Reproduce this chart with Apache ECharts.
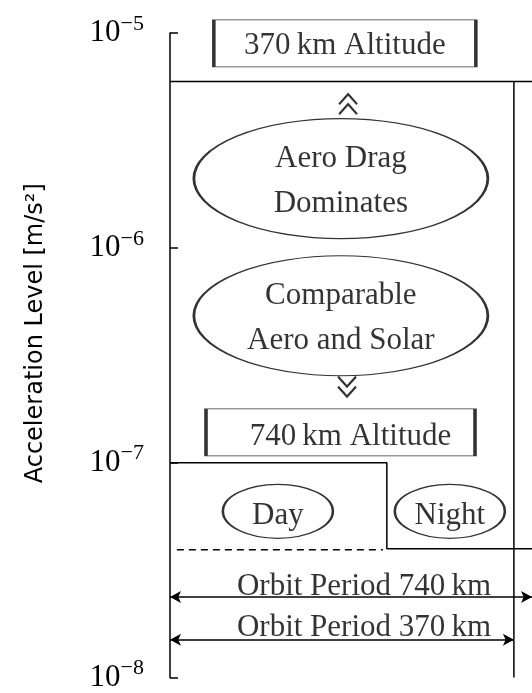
<!DOCTYPE html>
<html>
<head>
<meta charset="utf-8">
<script src="https://cdn.jsdelivr.net/npm/echarts@6/dist/echarts.min.js"></script>
<style>
html,body{margin:0;padding:0;background:#fff;}
#chart{width:532px;height:693px;}
</style>
</head>
<body>
<div id="chart"></div>
<script>
// ---- data (x: arbitrary orbit-time units 0..100, y: acceleration m/s^2) ----
const xExtent = [0, 100];
const yExtent = [1e-8, 1e-5];
const yTicks = [1e-8, 1e-7, 1e-6, 1e-5];

const boundaryX = [0, 100];
const boundaryY = 5.94e-6;
const period370X = 95;
const period740X = 100;

const stepX = [0, 59.9, 59.9, 100];
const stepY = [1.0e-7, 1.0e-7, 3.97e-8, 3.97e-8];
const dashX = [1.9, 58.8];
const dashY = 3.93e-8;

const arrowLabels = ['Orbit Period 740\u2009km', 'Orbit Period 370\u2009km'];
const arrowEndX = [period740X, period370X];
const arrowY = [2.37e-8, 1.5e-8];
const arrowLabelX = [53.6, 53.6];
const arrowLabelY = [2.83e-8, 1.81e-8];

const bigEllipseLabels = ['Aero Drag\nDominates', 'Comparable\nAero and Solar'];
const bigEllipseX = [47.2, 47.2];
const bigEllipseY = [2.10e-6, 4.83e-7];

const smallEllipseLabels = ['Day', 'Night'];
const smallEllipseX = [29.8, 77.3];
const smallEllipseY = [5.94e-8, 5.94e-8];

const boxLabels = ['370\u2009km Altitude', '740\u2009km Altitude'];
const boxX = [48.3, 47.1];
const boxY = [8.95e-6, 1.383e-7];

const chevronX = [49.2, 48.9];
const chevronY = [4.66e-6, 2.26e-7];

// ---- styles ----
const SERIF = '"Liberation Serif", "DejaVu Serif", serif';
const FS = 31;
const black = '#000';
const upChevron = 'path://M0,9 L8,1 L16,9 M0,17 L8,9 L16,17';
const downChevron = 'path://M0,1 L8,9 L16,1 M0,9 L8,17 L16,9';

const chart = echarts.init(document.getElementById('chart'), null, {renderer: 'canvas'});

const lineStyleBase = {color: black, width: 1.5};

const option = {
  animation: false,
  backgroundColor: '#fff',
  grid: {left: 170, right: 0, top: 33, bottom: 9},
  xAxis: {
    type: 'value', min: xExtent[0], max: xExtent[1], show: false
  },
  yAxis: {
    type: 'log', logBase: 10, min: yExtent[0], max: yExtent[1],
    axisLine: {show: true, lineStyle: {color: black, width: 1.5}},
    axisTick: {show: true, inside: true, length: 8, lineStyle: {color: black, width: 1.5}},
    minorTick: {show: false},
    splitLine: {show: false},
    axisLabel: {
      margin: 26,
      formatter: function (v) {
        return '{b|10}{s|\u2212' + Math.round(-Math.log10(v)) + '}';
      },
      rich: {
        b: {fontFamily: SERIF, fontSize: 31, color: black},
        s: {fontFamily: SERIF, fontSize: 22, color: black, padding: [0, 0, 18, 0]}
      }
    },
    name: 'Acceleration Level [m/s\u00B2]',
    nameLocation: 'middle',
    nameRotate: 90,
    nameGap: 122,
    nameTextStyle: {fontFamily: '"DejaVu Sans", sans-serif', fontSize: 24, color: black, padding: [0, 0, 0, 44]}
  },
  series: [
    {
      type: 'line', name: 'boundary', symbol: 'none', lineStyle: lineStyleBase,
      data: boundaryX.map(x => [x, boundaryY]), z: 3
    },
    {
      type: 'line', name: 'period370edge', symbol: 'none', lineStyle: lineStyleBase,
      data: [[period370X, boundaryY], [period370X, yExtent[0]]], z: 3
    },
    {
      type: 'line', name: 'daynight', symbol: 'none', lineStyle: lineStyleBase,
      data: stepX.map((x, i) => [x, stepY[i]]), z: 3
    },
    {
      type: 'line', name: 'dashed', symbol: 'none',
      lineStyle: {color: black, width: 1.5, type: [7, 5]},
      data: dashX.map(x => [x, dashY]), z: 3
    },
    {
      type: 'line', name: 'arrows', symbol: 'none', data: [],
      markLine: {
        silent: true, animation: false,
        symbol: ['arrow', 'arrow'], symbolSize: [9, 11],
        lineStyle: {color: black, width: 1.5, type: 'solid'},
        label: {show: false},
        data: arrowY.map((y, i) => [{coord: [0, y]}, {coord: [arrowEndX[i], y]}])
      }
    },
    {
      type: 'scatter', name: 'arrowText', symbolSize: 0, silent: true,
      data: arrowLabels.map((t, i) => ({value: [arrowLabelX[i], arrowLabelY[i]], name: t})),
      label: {show: true, position: 'inside', formatter: '{b}', fontFamily: SERIF, fontSize: FS, color: black, offset: [0, 6]}
    },
    {
      type: 'scatter', name: 'bigEllipses', symbol: 'circle', symbolSize: [294, 120], silent: true,
      itemStyle: {color: '#fff', borderColor: black, borderWidth: 1.8},
      data: bigEllipseLabels.map((t, i) => ({value: [bigEllipseX[i], bigEllipseY[i]], name: t})),
      label: {show: true, position: 'inside', formatter: '{b}', fontFamily: SERIF, fontSize: FS, lineHeight: 45, color: black, offset: [0, 3]},
      z: 4
    },
    {
      type: 'scatter', name: 'smallEllipses', symbol: 'circle', symbolSize: [110, 54], silent: true,
      itemStyle: {color: '#fff', borderColor: black, borderWidth: 1.8},
      data: smallEllipseLabels.map((t, i) => ({value: [smallEllipseX[i], smallEllipseY[i]], name: t})),
      label: {show: true, position: 'inside', formatter: '{b}', fontFamily: SERIF, fontSize: FS, color: black, offset: [0, 5]},
      z: 4
    },
    {
      type: 'scatter', name: 'boxes', symbol: 'rect', silent: true,
      itemStyle: {color: '#fff', borderColor: black, borderWidth: 1.5},
      data: boxLabels.map((t, i) => ({
        value: [boxX[i], boxY[i]], name: t,
        symbolSize: i === 0 ? [262, 47] : [269, 47],
        label: {offset: i === 0 ? [0, 3] : [10, 4]}
      })),
      label: {show: true, position: 'inside', formatter: '{b}', fontFamily: SERIF, fontSize: FS, color: black},
      z: 4
    },
    {
      type: 'scatter', name: 'chevrons', symbolSize: [18, 20], silent: true,
      itemStyle: {color: 'none', borderColor: black, borderWidth: 2.2},
      data: chevronX.map((x, i) => ({value: [x, chevronY[i]], symbol: i === 0 ? upChevron : downChevron})),
      z: 5
    }
  ]
};
chart.setOption(option);
</script>
</body>
</html>
